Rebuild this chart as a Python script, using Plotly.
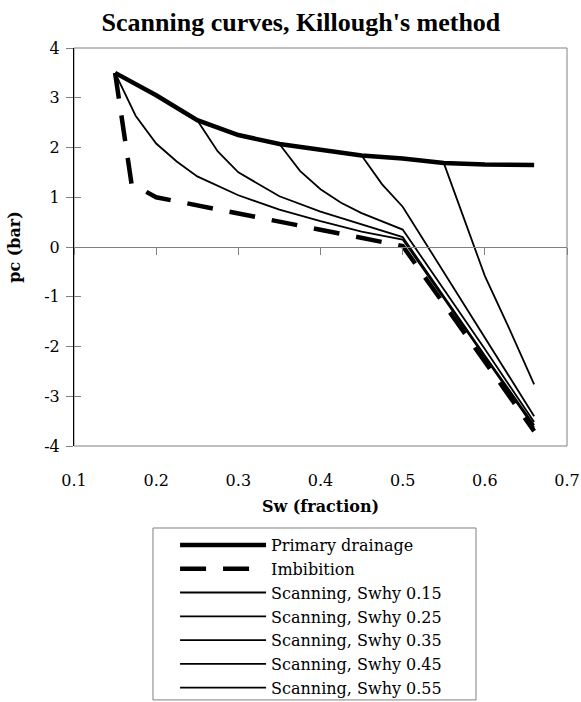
import plotly.graph_objects as go

# ---- data ----
sw_primary = [0.15, 0.2, 0.25, 0.3, 0.35, 0.4, 0.45, 0.5, 0.55, 0.6, 0.66]
pc_primary = [3.5, 3.05, 2.55, 2.25, 2.07, 1.95, 1.84, 1.78, 1.69, 1.66, 1.65]

sw_imb = [0.15, 0.17, 0.2, 0.25, 0.3, 0.35, 0.4, 0.45, 0.5, 0.55, 0.6, 0.66]
pc_imb = [3.5, 1.27, 1.0, 0.84, 0.66, 0.5, 0.35, 0.19, 0.02, -1.14, -2.3, -3.7]

sw_s015 = [0.15, 0.175, 0.2, 0.225, 0.25, 0.3, 0.35, 0.4, 0.45, 0.5, 0.55, 0.6, 0.66]
pc_s015 = [3.5, 2.64, 2.08, 1.72, 1.42, 1.04, 0.75, 0.52, 0.31, 0.15, -1.03, -2.21, -3.63]

sw_s025 = [0.25, 0.275, 0.3, 0.35, 0.4, 0.45, 0.5, 0.55, 0.6, 0.66]
pc_s025 = [2.55, 1.92, 1.5, 1.02, 0.71, 0.45, 0.2, -0.99, -2.18, -3.58]

sw_s035 = [0.35, 0.375, 0.4, 0.425, 0.45, 0.5, 0.55, 0.6, 0.66]
pc_s035 = [2.07, 1.53, 1.16, 0.89, 0.68, 0.35, -0.85, -2.05, -3.52]

sw_s045 = [0.45, 0.475, 0.5, 0.55, 0.6, 0.66]
pc_s045 = [1.84, 1.26, 0.81, -0.5, -1.82, -3.4]

sw_s055 = [0.55, 0.575, 0.6, 0.63, 0.66]
pc_s055 = [1.69, 0.55, -0.58, -1.65, -2.76]

x_ticks = [0.1, 0.2, 0.3, 0.4, 0.5, 0.6, 0.7]
x_tick_text = ["0.1", "0.2", "0.3", "0.4", "0.5", "0.6", "0.7"]
y_ticks = [-4, -3, -2, -1, 0, 1, 2, 3, 4]
y_tick_text = ["-4", "-3", "-2", "-1", "0", "1", "2", "3", "4"]

scan_names = ["Scanning, Swhy 0.15", "Scanning, Swhy 0.25", "Scanning, Swhy 0.35",
              "Scanning, Swhy 0.45", "Scanning, Swhy 0.55"]
scan_x = [sw_s015, sw_s025, sw_s035, sw_s045, sw_s055]
scan_y = [pc_s015, pc_s025, pc_s035, pc_s045, pc_s055]

SERIF = "DejaVu Serif"
GREY = "#808080"

fig = go.Figure()
fig.add_trace(go.Scatter(x=sw_primary, y=pc_primary, mode="lines", name="Primary drainage",
                         line=dict(color="black", width=4.5)))
fig.add_trace(go.Scatter(x=sw_imb, y=pc_imb, mode="lines", name="Imbibition",
                         line=dict(color="black", width=4.5, dash="26px,17px")))
for nm, xs, ys in zip(scan_names, scan_x, scan_y):
    fig.add_trace(go.Scatter(x=xs, y=ys, mode="lines", name=nm,
                             line=dict(color="black", width=1.8)))

# helper traces so that overlay axes are drawn
fig.add_trace(go.Scatter(x=[None], y=[None], xaxis="x2", yaxis="y", showlegend=False, hoverinfo="skip"))
fig.add_trace(go.Scatter(x=[None], y=[None], xaxis="x", yaxis="y2", showlegend=False, hoverinfo="skip"))

fig.update_layout(
    width=581, height=702,
    margin=dict(l=74, r=14, t=48, b=256, autoexpand=False),
    paper_bgcolor="white", plot_bgcolor="white",
    font=dict(family=SERIF, size=16, color="black"),
    title=dict(text="<b>Scanning curves, Killough's method</b>",
               font=dict(family="Liberation Serif", size=26, color="black"),
               x=0.518, xanchor="center", y=0.969, yanchor="middle"),
    xaxis=dict(range=[0.1, 0.7], tickvals=x_ticks, ticktext=x_tick_text,
               ticks="", showgrid=False, zeroline=False, automargin=False,
               showline=False, ticklabelstandoff=23,
               tickfont=dict(family=SERIF, size=16),
               title=dict(text="<b>Sw (fraction)</b>", standoff=11,
                          font=dict(family=SERIF, size=16))),
    xaxis2=dict(range=[0.1, 0.7], tickvals=x_ticks, overlaying="x", anchor="free",
                position=0.5, side="bottom", ticks="outside", ticklen=7, tickwidth=1,
                tickcolor=GREY, showticklabels=False, showgrid=False, zeroline=False,
                showline=True, linecolor=GREY, linewidth=1, automargin=False),
    yaxis=dict(range=[-4, 4], tickvals=y_ticks, ticktext=y_tick_text,
               ticks="outside", ticklen=7, tickwidth=1,
               tickcolor=GREY, showgrid=False, zeroline=False, automargin=False,
               showline=True, linecolor="black", linewidth=1, ticklabelstandoff=3,
               tickfont=dict(family=SERIF, size=16),
               title=dict(text="<b>pc (bar)</b>", standoff=19,
                          font=dict(family=SERIF, size=16))),
    yaxis2=dict(range=[-4, 4], tickvals=y_ticks, overlaying="y", anchor="x", side="left",
                ticks="inside", ticklen=7, tickwidth=1, tickcolor=GREY, automargin=False,
                showticklabels=False, showgrid=False, zeroline=False, showline=False),
    legend=dict(x=0.205, y=-0.206, xanchor="left", yanchor="top",
                borderwidth=0, bgcolor="rgba(0,0,0,0)",
                font=dict(family=SERIF, size=16), itemwidth=86,
                tracegroupgap=0),
    shapes=[
        dict(type="rect", xref="paper", yref="paper", x0=0, x1=1, y0=0, y1=1,
             line=dict(color=GREY, width=1), layer="below"),
        dict(type="rect", xref="paper", yref="paper", x0=0.1602, x1=0.8154,
             y0=-0.638, y1=-0.206, line=dict(color=GREY, width=1), layer="below"),
    ],
    showlegend=True,
)

fig.write_html("out.html", config={"displayModeBar": False},
               post_script="document.body.style.margin='0';")
